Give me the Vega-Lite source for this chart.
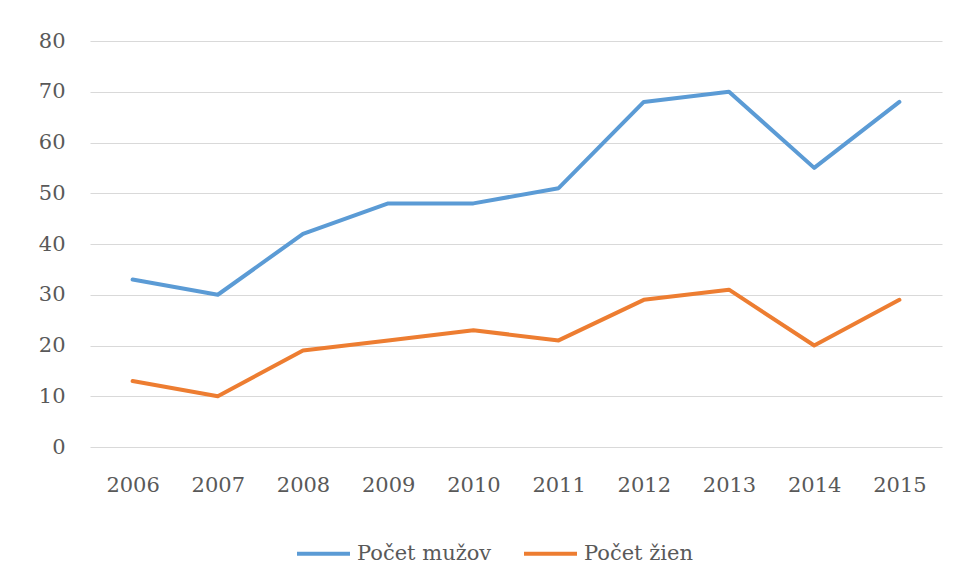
{
  "$schema": "https://vega.github.io/schema/vega-lite/v6.json",
  "autosize": "none",
  "width": 852,
  "height": 406,
  "padding": {"left": 90, "top": 41, "right": 17, "bottom": 137},
  "background": "white",
  "config": {
    "view": {"stroke": null},
    "font": "DejaVu Serif"
  },
  "data": {
    "values": [
      {"rok": "2006", "seria": "Počet mužov", "hodnota": 33},
      {"rok": "2007", "seria": "Počet mužov", "hodnota": 30},
      {"rok": "2008", "seria": "Počet mužov", "hodnota": 42},
      {"rok": "2009", "seria": "Počet mužov", "hodnota": 48},
      {"rok": "2010", "seria": "Počet mužov", "hodnota": 48},
      {"rok": "2011", "seria": "Počet mužov", "hodnota": 51},
      {"rok": "2012", "seria": "Počet mužov", "hodnota": 68},
      {"rok": "2013", "seria": "Počet mužov", "hodnota": 70},
      {"rok": "2014", "seria": "Počet mužov", "hodnota": 55},
      {"rok": "2015", "seria": "Počet mužov", "hodnota": 68},
      {"rok": "2006", "seria": "Počet žien", "hodnota": 13},
      {"rok": "2007", "seria": "Počet žien", "hodnota": 10},
      {"rok": "2008", "seria": "Počet žien", "hodnota": 19},
      {"rok": "2009", "seria": "Počet žien", "hodnota": 21},
      {"rok": "2010", "seria": "Počet žien", "hodnota": 23},
      {"rok": "2011", "seria": "Počet žien", "hodnota": 21},
      {"rok": "2012", "seria": "Počet žien", "hodnota": 29},
      {"rok": "2013", "seria": "Počet žien", "hodnota": 31},
      {"rok": "2014", "seria": "Počet žien", "hodnota": 20},
      {"rok": "2015", "seria": "Počet žien", "hodnota": 29}
    ]
  },
  "mark": {"type": "line", "strokeWidth": 4, "strokeCap": "round", "strokeJoin": "round"},
  "encoding": {
    "x": {
      "field": "rok", "type": "ordinal",
      "scale": {"type": "point", "padding": 0.5},
      "axis": {
        "title": null, "labelAngle": 0, "domain": false, "ticks": false,
        "labelFont": "DejaVu Serif", "labelFontSize": 21, "labelColor": "#595959",
        "labelPadding": 27
      }
    },
    "y": {
      "field": "hodnota", "type": "quantitative",
      "scale": {"domain": [0, 80]},
      "axis": {
        "title": null, "values": [0, 10, 20, 30, 40, 50, 60, 70, 80],
        "domain": false, "ticks": false, "gridColor": "#D9D9D9", "gridWidth": 1.2,
        "labelFont": "DejaVu Serif", "labelFontSize": 21, "labelColor": "#595959",
        "labelPadding": 25
      }
    },
    "color": {
      "field": "seria", "type": "nominal",
      "scale": {"domain": ["Počet mužov", "Počet žien"], "range": ["#5B9BD5", "#ED7D31"]},
      "legend": {
        "title": null, "orient": "none", "direction": "horizontal",
        "legendX": 205, "legendY": 484,
        "symbolType": "stroke", "symbolSize": 2809, "symbolStrokeWidth": 4,
        "labelFont": "DejaVu Serif", "labelFontSize": 21, "labelColor": "#595959",
        "labelOffset": 5, "columnPadding": 24
      }
    }
  }
}
